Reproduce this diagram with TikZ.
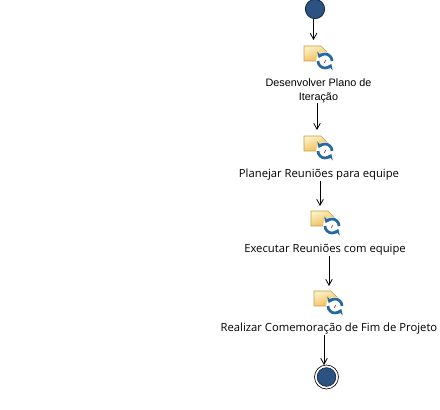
\documentclass[tikz,border=0pt]{standalone}
\usepackage{fontspec}
\setmainfont{Open Sans}
\newfontfamily\smallsans{Liberation Sans}
\usetikzlibrary{arrows.meta}
\definecolor{nodeblue}{HTML}{2C5282}
\definecolor{nodeedge}{HTML}{14263F}
\definecolor{cycleblue}{HTML}{2468A4}
\definecolor{folderedge}{HTML}{C4A04A}
\definecolor{foldertop}{HTML}{FBF0C4}
\definecolor{folderbot}{HTML}{EDB64A}
\tikzset{
  x=0.75pt,y=-0.75pt,
  flow/.style={draw=black,line width=0.75pt,-{Straight Barb[length=4.5pt,width=5pt,line width=0.6pt]}},
  lab/.style={font=\fontsize{8.45pt}{10.5pt}\selectfont,align=center,inner sep=0pt,text=black},
  labtwo/.style={font=\smallsans\fontsize{8.1pt}{10.5pt}\selectfont,align=center,inner sep=0pt,text=black},
  iconbox/.style={inner sep=0pt,minimum width=21pt,minimum height=17pt,draw=none},
  startdot/.style={circle,draw=nodeedge,line width=0.6pt,fill=nodeblue,inner sep=0pt,minimum size=14.5pt},
  enddot/.style={circle,draw=black,line width=0.5pt,inner sep=0pt,minimum size=18pt},
  pics/task/.style={code={
    \path[draw=folderedge,line width=0.5pt,top color=foldertop,bottom color=folderbot,shading angle=20]
      (0,0) -- (17,0) -- (26,9) -- (26,15) -- (0,15) -- cycle;
    \fill[white] (21,15) circle (9);
    \draw[cycleblue,line width=2pt,-{Stealth[length=4pt,width=6pt]}] (14,15) arc (180:25:7);
    \draw[cycleblue,line width=2pt,-{Stealth[length=4pt,width=6pt]}] (28,15) arc (0:-155:7);
    \draw[red!70!black,line width=0.4pt] (20,17) -- (22,14);
  }}
}
\begin{document}
\begin{tikzpicture}
\useasboundingbox[fill=white] (0,0) rectangle (440,410);
\node[startdot] (start) at (315,9) {};
\path (304,46) pic {task};
\node[iconbox] (i1) at (317,54) {};
\node[labtwo] (l1) at (318.5,90.5) {Desenvolver Plano de\\Iteração};
\path (304,136) pic {task};
\node[iconbox] (i2) at (317,144) {};
\node[lab] (l2) at (319,175) {Planejar Reuniões para equipe};
\path (311,211) pic {task};
\node[iconbox] (i3) at (324,219) {};
\node[lab] (l3) at (325,250) {Executar Reuniões com equipe};
\path (314,291) pic {task};
\node[iconbox] (i4) at (327,299) {};
\node[lab] (l4) at (329,329) {Realizar Comemoração de Fim de Projeto};
\node[enddot] (end) at (326.5,377) {};
\node[circle,draw=nodeedge,line width=0.5pt,fill=nodeblue,inner sep=0pt,minimum size=14pt] (endin) at (326.5,377) {};
\coordinate (a1) at (313.5,40);
\draw[flow] (start.south -| a1) -- (a1);
\coordinate (a2) at (317,130);
\draw[flow] (l1.south -| a2) -- (a2);
\coordinate (a3) at (320,206);
\draw[flow] (l2.south -| a3) -- (a3);
\coordinate (a4) at (329,286);
\draw[flow] (l3.south -| a4) -- (a4);
\coordinate (a5) at (324,365);
\draw[flow] (l4.south -| a5) -- (a5);
\end{tikzpicture}
\end{document}
